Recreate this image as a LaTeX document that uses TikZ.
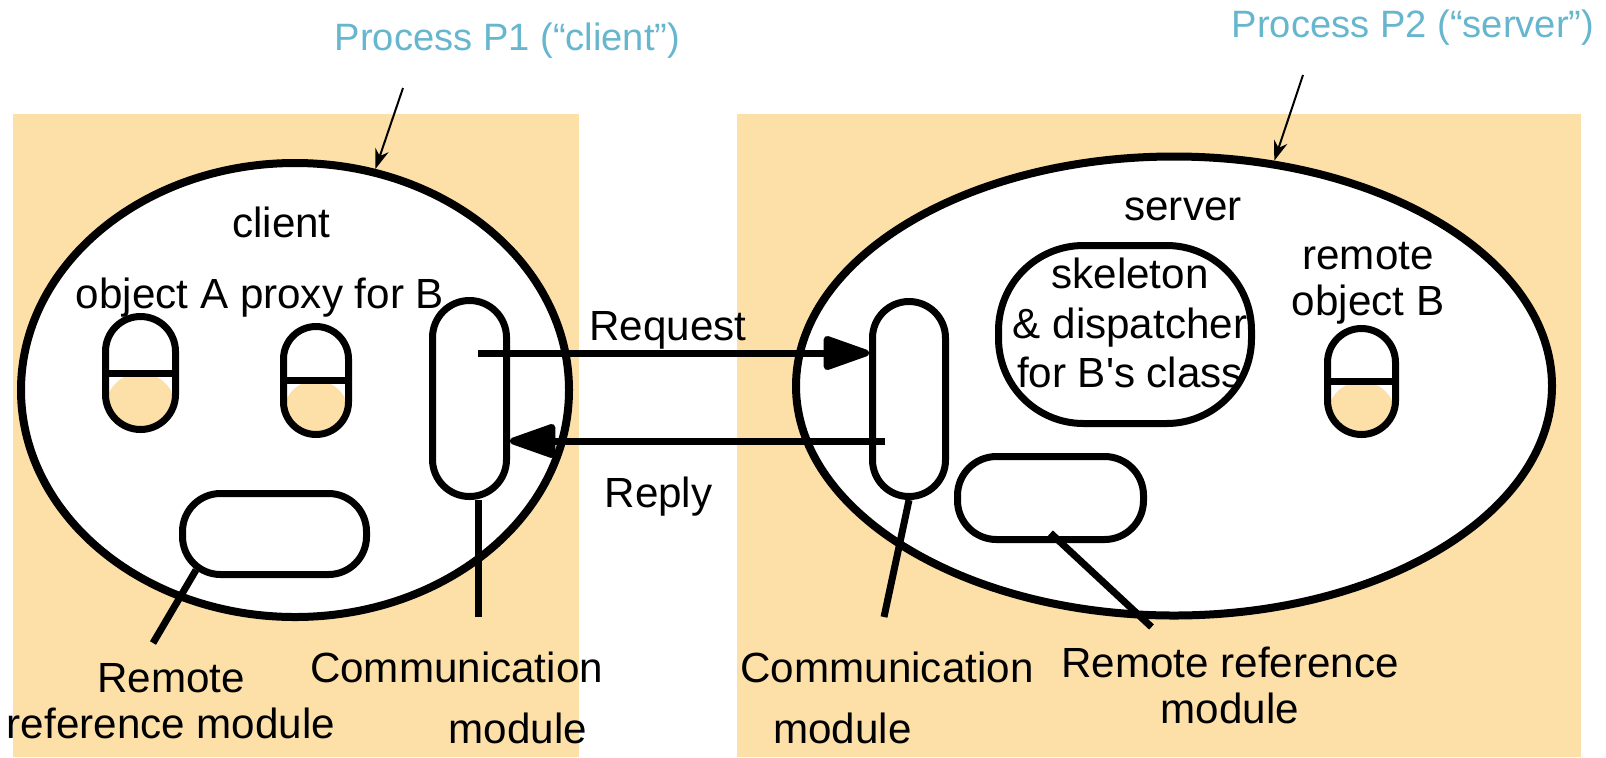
\documentclass[tikz,border=0pt]{standalone}
\usepackage{fontspec}
\setmainfont{Liberation Sans}
\usetikzlibrary{arrows.meta, positioning, shapes.geometric}
\definecolor{procbg}{RGB}{253,224,168}
\definecolor{proclabel}{RGB}{102,182,206}

\begin{document}
\begin{tikzpicture}[x=0.2mm, y=-0.2mm, font=\fontsize{24}{26}\selectfont,
		process/.style={ellipse, draw, line width=1.6mm, fill=white, inner sep=0pt},
		capsule/.style={draw, line width=1.4mm, fill=white, inner sep=0pt},
		halfobj/.style={capsule, path picture={
				\fill[procbg] (path picture bounding box.west) rectangle (path picture bounding box.south east);
				\draw[line width=1.4mm] (path picture bounding box.west) -- (path picture bounding box.east);}},
		txt/.style={inner sep=0pt, align=center},
		title/.style={inner sep=0pt, text=proclabel, font=\fontsize{21.7}{26}\selectfont},
		msg/.style={line width=1.4mm, -{Triangle[round, length=10.6mm, width=7mm]}},
		lead/.style={line width=1.4mm},
		pointer/.style={line width=0.4mm, -{Stealth[length=4mm, width=2.8mm]}}]
		
		\useasboundingbox (0,0) rectangle (1606,757);
		
		% Backgrounds
		\fill[procbg] (13,114) rectangle (579,757);
		\fill[procbg] (737,114) rectangle (1581,757);
		
		% Processes
		\node[process, minimum width=109.6mm, minimum height=90.8mm] (p1) at (295,390) {};
		\node[process, minimum width=151.2mm, minimum height=91.8mm] (p2) at (1174,386) {};
		
		% Objects
		\node[halfobj, rounded corners=7mm, minimum width=14mm, minimum height=22.6mm] (objA) at (140.5,373) {};
		\node[halfobj, rounded corners=6.5mm, minimum width=13mm, minimum height=21.6mm] (proxyB) at (316,380.5) {};
		\node[halfobj, rounded corners=6.8mm, minimum width=13.6mm, minimum height=21.2mm] (objB) at (1361.5,381.5) {};
		
		% Modules
		\node[capsule, rounded corners=7.4mm, minimum width=14.8mm, minimum height=39.2mm] (commL) at (469.5,398.5) {};
		\node[capsule, rounded corners=7.3mm, minimum width=14.6mm, minimum height=39mm] (commR) at (909,399) {};
		\node[capsule, rounded corners=7.6mm, minimum width=36.8mm, minimum height=16.2mm] (refL) at (274.5,534) {};
		\node[capsule, rounded corners=7.8mm, minimum width=37.2mm, minimum height=16.6mm] (refR) at (1050.5,498) {};
		\node[capsule, rounded corners=17mm, minimum width=50.6mm, minimum height=35.6mm] (skel) at (1125,334.5) {};
		
		% Labels
		\node[title, anchor=base] (p1lbl) at (507.5,50) {Process P1 (“client”)};
		\node[title, anchor=base] (p2lbl) at (1413,37) {Process P2 (“server”)};
		\node[txt, anchor=base] (clientlbl) at (281.5,237) {client};
		\node[txt, anchor=base] (objlbl) at (260,308) {object A proxy for B};
		\node[txt, anchor=base] (serverlbl) at (1183,220) {server};
		\node[txt, anchor=north] (skellbl) at (1130,258) {skeleton\\[0.7mm]\& dispatcher\\[0.7mm]for B\textquotesingle s class};
		\node[txt, anchor=north] (objBlbl) at (1368,242) {remote\\object B};
		\node[txt, anchor=base] (reqlbl) at (668,340) {Request};
		\node[txt, anchor=base] (replbl) at (658.5,507) {Reply};
		\node[txt, anchor=north] (refLlbl) at (171,663) {Remote\\reference module};
		\node[txt, anchor=north] (refRlbl) at (1230,647) {Remote reference\\module};
		\node[txt, anchor=base] (commLlbl) at (456.5,682) {Communication};
		\node[txt, anchor=base] (commLlbl2) at (518,743) {module};
		\node[txt, anchor=base] (commRlbl) at (887,682) {Communication};
		\node[txt, anchor=base] (commRlbl2) at (842.5,743) {module};
		
		% Arrows
		\coordinate (p1tail) at (403,88);
		\coordinate (p2tail) at (1303,75);
		\draw[pointer] (p1tail) -- (p1.70);
		\draw[pointer] (p2tail) -- (p2.66);
		
		\coordinate (reqstart) at (478,353);
		\coordinate (repstart) at (885,441);
		\draw[msg] (reqstart) -- (reqstart -| commR.west);
		\draw[msg] (repstart) -- (repstart -| commL.east);
		
		\draw[lead] ([xshift=1.7mm]commL.south) -- ++(0,117);
		\draw[lead] (commR.south) -- ++(-25,117);
		\draw[lead] ([xshift=3.4mm, yshift=1.6mm]refL.south west) -- ++(-43,73);
		\draw[lead] ([yshift=2mm]refR.south) -- ++(101,94);
		
\end{tikzpicture}
\end{document}
